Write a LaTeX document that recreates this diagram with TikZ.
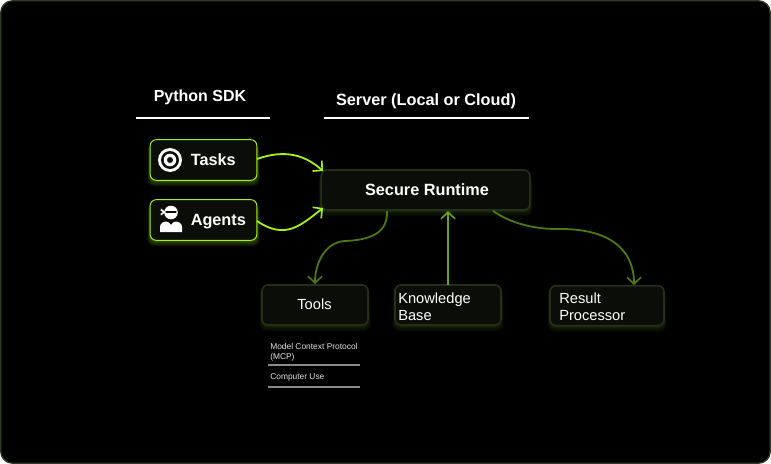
\documentclass[tikz,border=0pt]{standalone}
\usepackage{fontspec}
\setmainfont{Liberation Sans}
\usetikzlibrary{arrows.meta}
\definecolor{bright}{HTML}{A4F50A}
\definecolor{boxfill}{HTML}{0A0D08}
\definecolor{dimedge}{HTML}{263019}
\definecolor{frameedge}{HTML}{2F3D25}
\definecolor{dimline}{HTML}{4A7A10}
\definecolor{midline}{HTML}{6BA30A}
\definecolor{glow}{HTML}{5A8A10}
\definecolor{rulegray}{HTML}{8A8A8A}
\tikzset{
  x=0.75pt,y=-0.75pt,
  boxbase/.style={rounded corners=4.5pt,inner sep=0pt,fill=boxfill,text=white,line width=1.2pt},
  actorbox/.style={boxbase,draw=bright,line width=0.7pt,minimum width=80pt,minimum height=30.5pt},
  smallbox/.style={boxbase,draw=dimedge,minimum height=30pt},
  head/.style={text=white,font=\fontsize{12}{14}\selectfont\bfseries,inner sep=0pt,anchor=base},
  rulestyle/.style={draw=white,line width=1.1pt},
  subrule/.style={draw=rulegray,line width=1.1pt},
  flow/.style={line width=1.35pt,-{Straight Barb[length=5pt,width=10.5pt,line width=1.2pt]}},
  boxlabel/.style={text=white,inner sep=0pt,align=left,font=\fontsize{11}{12.75}\selectfont},
  boldlabel/.style={text=white,inner sep=0pt,font=\fontsize{12.2}{14}\selectfont\bfseries},
  tiny/.style={text=white!88!black,inner sep=0pt,align=left,font=\fontsize{6.3}{7.5}\selectfont},
}
\newcommand{\glowat}[5]{% x1 y1 x2 y2 opacity
  \foreach \g in {5,3.5,2,1}
    \fill[glow,opacity=#5,rounded corners=5pt] (#1-\g/2,#2+4) rectangle (#3+\g/2,#4+\g+1);
}
\begin{document}
\begin{tikzpicture}
\useasboundingbox (0,0) rectangle (771,464);
\fill[white] (0,0) rectangle (771,464);
\fill[black,draw=frameedge,line width=1pt,rounded corners=9pt] (0.7,0.7) rectangle (770.3,463.3);
% headings
\node[head] (sdk) at (200,101) {Python SDK};
\node[head,font=\fontsize{12.2}{14}\selectfont\bfseries] (srv) at (426,105) {Server (Local or Cloud)};
\coordinate (r1a) at (136,118); \coordinate (r1b) at (270,118);
\coordinate (r2a) at (324,118); \coordinate (r2b) at (529,118);
\draw[rulestyle] (r1a) -- (r1b);
\draw[rulestyle] (r2a) -- (r2b);
% glows
\glowat{150}{140}{257}{180}{0.16}
\glowat{150}{200}{257}{240}{0.16}
\glowat{321}{170}{530}{210}{0.07}
\glowat{262}{285}{368}{325}{0.07}
\glowat{395}{285}{501}{325}{0.07}
\glowat{550}{286}{664}{325.5}{0.07}
% boxes
\node[actorbox] (tasks) at (203.5,160) {};
\node[actorbox] (agents) at (203.5,220) {};
\node[smallbox,minimum width=156.5pt] (runtime) at (425.5,190) {};
\node[smallbox,minimum width=79.5pt] (tools) at (315,305) {};
\node[smallbox,minimum width=79.5pt] (kb) at (448,305) {};
\node[smallbox,minimum width=85.5pt] (result) at (607,305.7) {};
% box labels
\node[boldlabel,anchor=base west] (tasksl) at (190.5,165) {Tasks};
\node[boldlabel,anchor=base west] (agentsl) at (190.5,225) {Agents};
\node[boldlabel,anchor=base] (runtimel) at (427,195) {Secure Runtime};
\node[boxlabel,anchor=base] (toolsl) at (314.5,309) {Tools};
\node[boxlabel,anchor=base west] (kbl) at (398,320) {Knowledge\\Base};
\node[boxlabel,anchor=base west] (resultl) at (559,320) {Result\\Processor};
% target icon
\fill[white] (170,160) circle (12);
\fill[boxfill] (170,160) circle (9);
\fill[white] (170,160) circle (6.3);
\fill[boxfill] (170,160) circle (3);
% agent icon
\fill[white] (171,212.5) circle (6.8);
\draw[boxfill,line width=1pt,line cap=round] (166,212) -- (176,212);
\fill[white] (165.5,212) -- (161,208.5) -- (160.5,210.5) -- (163,212) -- (160.5,214) -- (161,215.5) -- cycle;
\fill[white] (160,232) -- (160,227) .. controls (160,223.5) and (163.5,221.5) .. (166,221.5) .. controls (168,221.5) and (170,223) .. (171,225) .. controls (172,223) and (174,221.5) .. (176,221.5) .. controls (178.5,221.5) and (182,223.5) .. (182,227) -- (182,232) -- cycle;
% connectors
\coordinate (t0) at (257,159); \coordinate (t1) at (323,171);
\coordinate (a0) at (257,221); \coordinate (a1) at (323,208);
\coordinate (b0) at (387,211); \coordinate (b1) at (345,241); \coordinate (b2) at (315,284);
\coordinate (k0) at (448,285); \coordinate (k1) at (448,211);
\coordinate (c0) at (493,211); \coordinate (c1) at (557,229); \coordinate (c2) at (634,285);
\draw[flow,bright] (t0) .. controls (285,149) and (305,155) .. (t1);
\draw[flow,bright] (a0) .. controls (285,240) and (300,226) .. (a1);
\draw[flow,dimline] (b0) .. controls (388,232) and (372,240) .. (b1) .. controls (326,242) and (315,262) .. (b2);
\draw[flow,midline] (k0) -- (k1);
\draw[flow,dimline] (c0) .. controls (512,224) and (535,229) .. (c1) .. controls (610,228) and (634,250) .. (c2);
% tool list
\node[tiny,anchor=base west] (mcp) at (270,359) {Model Context Protocol\\(MCP)};
\node[tiny,anchor=base west] (cu) at (270,379) {Computer Use};
\coordinate (s1a) at (268,365); \coordinate (s1b) at (360,365);
\coordinate (s2a) at (268,387); \coordinate (s2b) at (360,387);
\draw[subrule] (s1a) -- (s1b);
\draw[subrule] (s2a) -- (s2b);
\end{tikzpicture}
\end{document}
